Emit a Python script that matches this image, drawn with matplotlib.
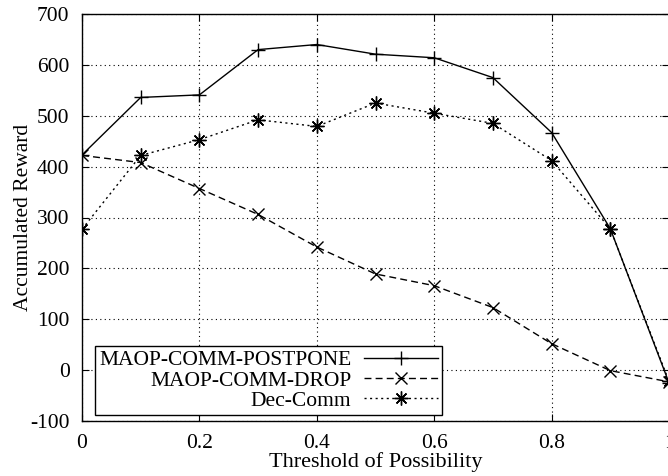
import matplotlib
matplotlib.use("Agg")
import matplotlib.pyplot as plt

x = [0.0, 0.1, 0.2, 0.3, 0.4, 0.5, 0.6, 0.7, 0.8, 0.9, 1.0]
postpone = [423, 536, 541, 630, 640, 621, 614, 575, 467, 278, -25]
drop = [422, 408, 357, 306, 242, 189, 166, 123, 52, -1, -23]
deccomm = [277, 422, 453, 492, 479, 525, 505, 485, 412, 278, -22]
labels = ["MAOP-COMM-POSTPONE", "MAOP-COMM-DROP", "Dec-Comm"]
xticks = [0, 0.2, 0.4, 0.6, 0.8, 1.0]
xticklabels = ["0", "0.2", "0.4", "0.6", "0.8", "1"]
yticks = list(range(-100, 701, 100))

plt.rcParams['font.family'] = ['Liberation Serif', 'DejaVu Serif']
plt.rcParams['font.size'] = 15
plt.rcParams['axes.unicode_minus'] = False

fig = plt.figure(figsize=(6.68, 4.76), dpi=100)
ax = fig.add_axes([82/668, 1 - 421/476, 587/668, 407/476])

ax.plot(x, postpone, color='black', lw=1.0, ls='-', marker='+', ms=10, mew=1.0, label=labels[0])
ax.plot(x, drop, color='black', lw=1.0, ls=(0, (5, 3)), marker='x', ms=8, mew=1.0, label=labels[1])
ax.plot(x, deccomm, color='black', lw=1.0, ls=(0, (1.5, 2.5)), marker=(8, 2, 0), ms=10, mew=1.0, label=labels[2])

ax.set_xlim(0, 1)
ax.set_ylim(-100, 700)
ax.set_xticks(xticks)
ax.set_xticklabels(xticklabels)
ax.set_yticks(yticks)
ax.grid(True, color='black', ls=(0, (1, 3)), lw=0.8)
ax.tick_params(direction='in', top=True, right=True, length=5, width=0.8, labelsize=15.5)
ax.tick_params(axis='x', pad=9)
ax.tick_params(axis='y', pad=9)
for s in ax.spines.values():
    s.set_linewidth(1.0)

ax.set_xlabel("Threshold of Possibility", fontsize=16, labelpad=0)
ax.set_ylabel("Accumulated Reward", fontsize=15.5, labelpad=-2)

leg = ax.legend(loc='lower left', bbox_to_anchor=(0.022, 0.015), borderaxespad=0,
                markerfirst=False, fancybox=False, framealpha=1, edgecolor='black',
                handlelength=3.4, handletextpad=0.6, labelspacing=0.0, borderpad=0.2,
                fontsize=15.5)
leg.get_frame().set_linewidth(1.0)

fig.savefig("out.png", dpi=100)
